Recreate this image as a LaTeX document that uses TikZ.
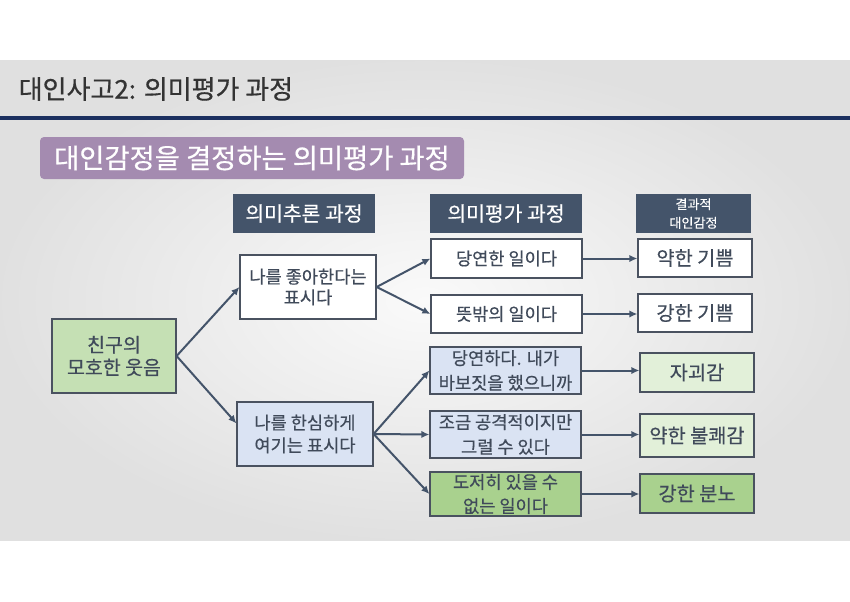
\documentclass[tikz,border=0pt]{standalone}
\usepackage{fontspec}
\setmainfont{Noto Sans CJK KR}[FakeBold=0.5]
\usetikzlibrary{arrows.meta}
\definecolor{slate}{HTML}{44546A}
\definecolor{boxline}{HTML}{4A5260}
\definecolor{boxtext}{HTML}{404A5A}
\definecolor{navyline}{HTML}{1C3060}
\definecolor{topicbg}{HTML}{A48BB0}
\definecolor{greenA}{HTML}{C5E0B4}
\definecolor{greenB}{HTML}{A9D18E}
\definecolor{greenC}{HTML}{E2F0D9}
\definecolor{blueA}{HTML}{DAE3F3}
\begin{document}
\begin{tikzpicture}[x=0.75pt, y=-0.75pt,
  emohdr/.style = {fill=slate, text=white, inner sep=0pt, align=center,
    minimum height=29.25pt, font=\fontsize{15.3}{18}\selectfont},
  emobox/.style = {draw=boxline, line width=0.9pt, text=boxtext, inner sep=0pt,
    align=center, font=\fontsize{13.2}{17}\selectfont},
  emores/.style = {emobox, minimum width=85.5pt, font=\fontsize{14.8}{17}\selectfont},
  emoarr/.style = {draw=slate, line width=1.5pt, -{Latex[length=6pt,width=5.5pt]}}
]
  \useasboundingbox (0,0) rectangle (850,601);
  % 배경
  \fill[white] (0,0) rectangle (850,601);
  \shade[inner color=black!2, outer color=black!12] (0,60) rectangle (850,540);
  \fill[navyline] (0,116) rectangle (850,120);
  % 제목
  \node[anchor=west, text=black!80, font=\fontsize{19.5}{22}\selectfont] (title)
    at (14,89) {대인사고2: 의미평가 과정};
  \node[fill=topicbg, rounded corners=3pt, text=white, inner sep=0pt,
    minimum width=318pt, minimum height=31.5pt,
    font=\fontsize{20.5}{24}\selectfont] (topic) at (252,158)
    {대인감정을 결정하는 의미평가 과정};
  % 열 제목
  \node[emohdr, minimum width=106.5pt] (hdrinfer) at (304,213.5) {의미추론 과정};
  \node[emohdr, minimum width=114pt] (hdreval) at (506,213.5) {의미평가 과정};
  \node[emohdr, minimum width=86.25pt, font=\fontsize{9.8}{14}\selectfont]
    (hdrresult) at (693.5,213.5) {결과적\\대인감정};
  % 상자
  \node[emobox, fill=greenA, minimum width=93pt, minimum height=55.5pt,
    font=\fontsize{14.6}{17}\selectfont] (smile) at (114,356) {친구의\\모호한 웃음};
  \node[emobox, fill=white, minimum width=102pt, minimum height=48pt,
    font=\fontsize{13.2}{15.5}\selectfont] (like) at (308,287) {나를 좋아한다는\\표시다};
  \node[emobox, fill=blueA, minimum width=102pt, minimum height=48pt]
    (pity) at (305,434) {나를 한심하게\\여기는 표시다};
  \node[emobox, fill=white, minimum width=113.25pt, minimum height=29.25pt]
    (evalA) at (506.5,258.5) {당연한 일이다};
  \node[emobox, fill=white, minimum width=113.25pt, minimum height=28.5pt]
    (evalB) at (506.5,314) {뜻밖의 일이다};
  \node[emobox, fill=blueA, minimum width=113.25pt, minimum height=35.25pt,
    font=\fontsize{13.2}{18.5}\selectfont] (evalC) at (505.5,370.5)
    {당연하다. 내가\\바보짓을 했으니까};
  \node[emobox, fill=blueA, minimum width=113.25pt, minimum height=35.25pt,
    font=\fontsize{13.2}{18.5}\selectfont] (evalD) at (505.5,434.5)
    {조금 공격적이지만\\그럴 수 있다};
  \node[emobox, fill=greenB, minimum width=113.25pt, minimum height=33pt,
    font=\fontsize{13.2}{18}\selectfont] (evalE) at (505.5,494)
    {도저히 있을 수\\없는 일이다};
  \node[emores, fill=white, minimum height=28.5pt] (resA) at (695,258) {약한 기쁨};
  \node[emores, fill=white, minimum height=28.5pt] (resB) at (695,313) {강한 기쁨};
  \node[emores, fill=greenC, minimum height=29.25pt] (resC) at (697,372.5) {자괴감};
  \node[emores, fill=greenC, minimum height=32.25pt] (resD) at (697,435.5) {약한 불쾌감};
  \node[emores, fill=greenB, minimum height=29.25pt] (resE) at (697,493.5) {강한 분노};
  % 화살표
  \draw[emoarr] (smile.east) -- (like.west);
  \draw[emoarr] (smile.east) -- ([yshift=8pt]pity.west);
  \draw[emoarr] (like.east) -- (evalA.west);
  \draw[emoarr] (like.east) -- (evalB.west);
  \draw[emoarr] (pity.east) -- (evalC.west);
  \draw[emoarr] (pity.east) -- (evalD.west);
  \draw[emoarr] (pity.east) -- (evalE.west);
  \foreach \e/\r in {evalA/resA, evalB/resB, evalC/resC, evalD/resD, evalE/resE}
    \draw[emoarr] (\e.east) -- (\e.east -| \r.west);
\end{tikzpicture}
\end{document}
